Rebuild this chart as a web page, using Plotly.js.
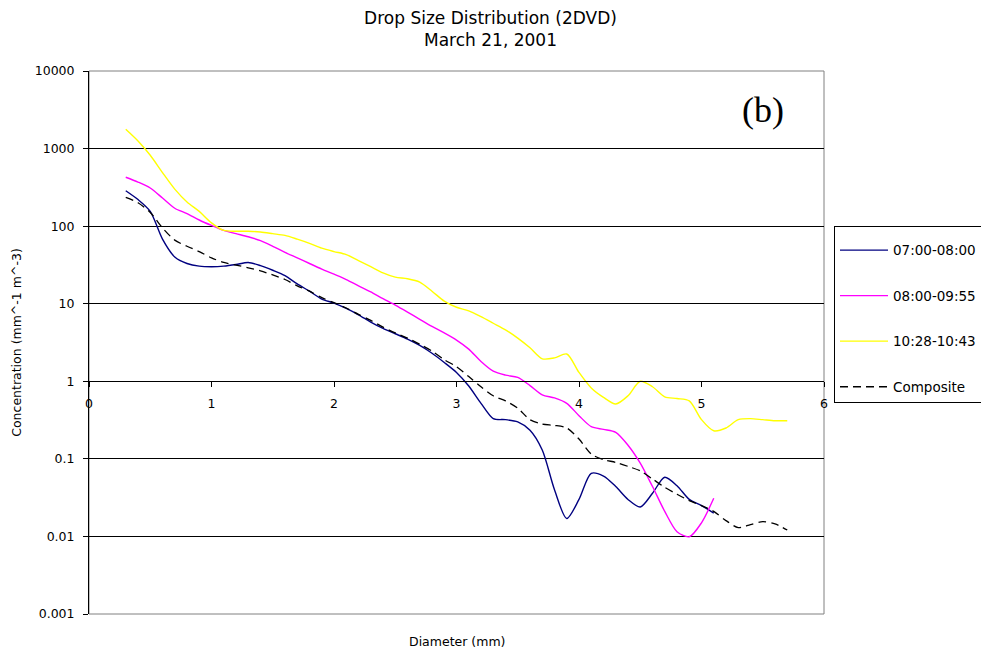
<!DOCTYPE html>
<html>
<head>
<meta charset="utf-8">
<script src="https://cdn.plot.ly/plotly-3.0.1.min.js"></script>
<style>
  html, body { margin: 0; padding: 0; background: #fff; }
  #chart { width: 981px; height: 651px; }
</style>
</head>
<body>
<div id="chart"></div>
<script>
// Drop diameters (mm)
const diamLong = [0.3,0.4,0.5,0.6,0.7,0.8,0.9,1.0,1.1,1.2,1.3,1.4,1.5,1.6,1.7,1.8,1.9,2.0,2.1,2.2,2.3,2.4,2.5,2.6,2.7,2.8,2.9,3.0,3.1,3.2,3.3,3.4,3.5,3.6,3.7,3.8,3.9,4.0,4.1,4.2,4.3,4.4,4.5,4.6,4.7,4.8,4.9,5.0,5.1,5.2,5.3,5.4,5.5,5.6,5.7];
const diamShort = [0.3,0.4,0.5,0.6,0.7,0.8,0.9,1.0,1.1,1.2,1.3,1.4,1.5,1.6,1.7,1.8,1.9,2.0,2.1,2.2,2.3,2.4,2.5,2.6,2.7,2.8,2.9,3.0,3.1,3.2,3.3,3.4,3.5,3.6,3.7,3.8,3.9,4.0,4.1,4.2,4.3,4.4,4.5,4.6,4.7,4.8,4.9,5.0,5.1];

// Concentration (mm^-1 m^-3) per period
const period0700 = [286,220,155,68,40,33,30.5,30,30.5,32,34,31,27,23,18,14.5,11.5,10.2,8.7,7.2,5.8,4.8,4.1,3.5,2.9,2.3,1.75,1.3,0.87,0.52,0.33,0.32,0.3,0.234,0.13,0.04,0.017,0.03,0.065,0.06,0.044,0.03,0.024,0.036,0.058,0.045,0.03,0.025,0.020];
const period0800 = [427,370,310,230,170,145,120,102,88,80,73,65,55,46,39,33,28,24,20.5,17,14.2,11.6,9.6,7.8,6.3,5.1,4.2,3.4,2.6,1.8,1.35,1.2,1.12,0.88,0.67,0.61,0.52,0.36,0.26,0.24,0.22,0.15,0.088,0.044,0.021,0.0115,0.0099,0.015,0.031];
const period1028 = [1770,1250,820,490,300,205,155,110,88,86,86,84,80,76,68,60,52,47,43,36,30,25,22,21,19,14.5,10.8,9.0,8.1,6.8,5.6,4.6,3.6,2.7,1.95,2.0,2.25,1.3,0.82,0.62,0.51,0.65,1.0,0.85,0.63,0.6,0.56,0.32,0.23,0.25,0.32,0.33,0.32,0.31,0.31];
const composite = [235,200,150,95,66,55,47,39,34,31.5,29,26.5,23.5,20.5,17,14.5,12,10.3,8.8,7.3,6.1,5.0,4.2,3.6,3.0,2.45,1.9,1.54,1.15,0.85,0.65,0.56,0.45,0.32,0.28,0.27,0.25,0.18,0.115,0.098,0.09,0.08,0.07,0.055,0.043,0.035,0.029,0.025,0.021,0.016,0.013,0.0142,0.0155,0.0145,0.0121];

const seriesNames = ['07:00-08:00', '08:00-09:55', '10:28-10:43', 'Composite'];
const yTickVals = [0.001, 0.01, 0.1, 1, 10, 100, 1000, 10000];
const yTickText = ['0.001', '0.01', '0.1', '1', '10', '100', '1000', '10000'];
const xTickVals = [0, 1, 2, 3, 4, 5, 6];

const FONT = 'DejaVu Sans, Verdana, sans-serif';

function line(x, y, name, color, width, dash) {
  return {
    x: x, y: y, name: name, type: 'scatter', mode: 'lines',
    legendgroup: name,
    line: { color: color, width: width, dash: dash || 'solid', shape: 'spline', smoothing: 0.8 }
  };
}

const traces = [
  line(diamShort, period0700, seriesNames[0], '#000080', 1.4),
  line(diamShort, period0800, seriesNames[1], '#ff00ff', 1.4),
  line(diamLong, period1028, seriesNames[2], '#ffff00', 1.4),
  line(diamLong, composite, seriesNames[3], '#000000', 1.3, '8px,5px')
];

const layout = {
  width: 981, height: 651,
  margin: { l: 89, r: 157, t: 71, b: 37, autoexpand: false },
  paper_bgcolor: '#ffffff', plot_bgcolor: '#ffffff',
  font: { family: FONT, size: 12, color: '#000' },
  title: {
    text: 'Drop Size Distribution (2DVD)<br>March 21, 2001',
    font: { family: FONT, size: 17, color: '#000' },
    x: 0.5, xref: 'container', yref: 'container', y: 1 - 24 / 651, yanchor: 'middle'
  },
  xaxis: {
    range: [0, 6], tickvals: xTickVals, ticktext: xTickVals.map(String),
    anchor: 'free', position: 3 / 7,
    showgrid: false, zeroline: false,
    showline: true, linecolor: '#000', linewidth: 1,
    ticks: 'outside', ticklen: 5, tickcolor: '#000', ticklabelstandoff: 6,
    tickfont: { family: FONT, size: 12.5, color: '#000' }
  },
  yaxis: {
    type: 'log', range: [-3, 4], tickvals: yTickVals, ticktext: yTickText,
    showgrid: true, gridcolor: '#000', gridwidth: 1, zeroline: false,
    showline: true, linecolor: '#000', linewidth: 1,
    ticks: 'outside', ticklen: 5, tickcolor: '#000', ticklabelstandoff: 6,
    tickfont: { family: FONT, size: 12.5, color: '#000' },
    title: { text: 'Concentration (mm^-1 m^-3)', font: { family: FONT, size: 12.5 }, standoff: 10 }
  },
  showlegend: true,
  legend: {
    x: (834 - 89) / 735, xanchor: 'left', y: (614 - 226) / 543, yanchor: 'top',
    bordercolor: '#000', borderwidth: 1, bgcolor: '#fff',
    font: { family: FONT, size: 13.5, color: '#000' },
    title: { text: ' ', font: { size: 6 } },
    itemwidth: 48,
    tracegroupgap: 25
  },
  annotations: [{
    text: 'Diameter (mm)', xref: 'paper', yref: 'paper', x: 0.5, y: -0.05,
    xanchor: 'center', yanchor: 'middle', showarrow: false,
    font: { family: FONT, size: 12.5, color: '#000' }
  }, {
    text: '(b)', xref: 'paper', yref: 'paper', x: (763 - 89) / 735, y: (614 - 110) / 543,
    xanchor: 'center', yanchor: 'middle', showarrow: false,
    font: { family: 'Liberation Serif, Times New Roman, serif', size: 36, color: '#000' }
  }],
  shapes: [{
    type: 'rect', xref: 'paper', yref: 'paper', x0: 0, x1: 1, y0: 0, y1: 1,
    line: { color: '#808080', width: 1 }, layer: 'below'
  }]
};

Plotly.newPlot('chart', traces, layout, { displayModeBar: false, staticPlot: true });
</script>
</body>
</html>
